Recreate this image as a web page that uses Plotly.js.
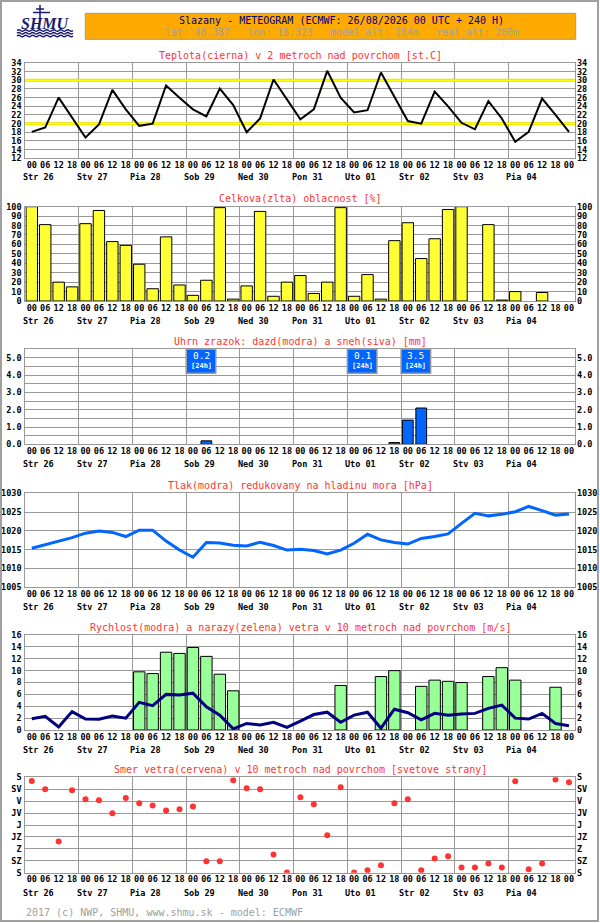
<!DOCTYPE html>
<html><head><meta charset="utf-8">
<script src="https://cdn.plot.ly/plotly-3.0.1.min.js"></script>
<style>html,body{margin:0;padding:0;background:#fff}#chart{width:600px;height:923px}</style>
</head><body><div id="chart"></div>
<script>
// ---------------- data ----------------
const hours = [0,6,12,18,24,30,36,42,48,54,60,66,72,78,84,90,96,102,108,114,120,126,132,138,144,150,156,162,168,174,180,186,192,198,204,210,216,222,228,234,240];
const tickLabels = ['00','06','12','18','00','06','12','18','00','06','12','18','00','06','12','18','00','06','12','18','00','06','12','18','00','06','12','18','00','06','12','18','00','06','12','18','00','06','12','18','00'];
const dayLabels = ['Str 26','Stv 27','Pia 28','Sob 29','Ned 30','Pon 31','Uto 01','Str 02','Stv 03','Pia 04'];
const dayGridHours = [21,45,69,93,117,141,165,189,213];
const temperature = [18.1,19.1,26.0,21.5,16.8,19.8,27.8,23.3,19.5,20.0,28.8,26.0,23.3,21.7,28.1,24.3,18.0,21.2,30.2,25.6,21.0,23.3,32.2,26.0,22.6,23.1,31.8,26.2,20.6,20.0,27.4,24.0,20.2,18.7,25.2,21.2,15.8,18.1,25.8,22.0,18.1];
const tempThresholds = [20, 30];
const cloudCover = [100,81,20,15,82,96,63,59,39,13,68,17,6,22,99,2,16,95,5,20,27,8,20,99,5,28,2,64,83,45,66,97,100,0,81,1,10,0,9,0,0];
const rain = [0,0,0,0,0,0,0,0,0,0,0,0,0,0.2,0,0,0,0,0,0,0,0,0,0,0,0,0,0.1,1.4,2.1,0,0,0,0,0,0,0,0,0,0,0];
const snow = [0,0,0,0,0,0,0,0,0,0,0,0,0,0,0,0,0,0,0,0,0,0,0,0,0,0,0,0,0,0,0,0,0,0,0,0,0,0,0,0,0];
const pressure = [1015.4,1016.3,1017.4,1018.2,1019.4,1020.0,1019.6,1018.5,1020.2,1020.2,1017.3,1014.9,1013.0,1016.9,1016.8,1016.2,1016.0,1017.0,1016.1,1014.9,1015.1,1014.8,1013.9,1014.9,1016.7,1019.1,1017.6,1016.9,1016.5,1018.0,1018.5,1019.2,1022.0,1024.7,1024.0,1024.4,1025.1,1026.5,1025.4,1024.2,1024.5];
const windSpeed = [1.9,2.3,0.5,3.1,1.85,1.8,2.35,2.0,4.66,4.1,6.0,5.9,6.2,3.9,2.5,0.2,1.1,0.85,1.3,0.45,1.5,2.6,3.0,1.3,2.5,3.0,0.3,3.5,2.9,1.7,2.8,2.5,2.7,2.8,3.65,4.2,2.0,1.85,2.8,1.1,0.7];
const windGust = [null,null,null,null,null,null,null,null,9.8,9.5,13.1,12.9,13.9,12.4,9.4,6.6,null,null,null,null,null,null,null,7.5,null,null,9.0,10.0,null,7.35,8.4,8.2,8.0,null,9.0,10.5,8.4,null,null,7.2,null];
const windDir = [14,45,242,49,83,87,136,78,98,106,125,121,110,317,317,11,41,45,291,359,75,102,219,38,359,351,332,98,83,351,306,298,340,340,325,340,15,347,325,8,19];
const dirLabels = ['S','SV','V','JV','J','JZ','Z','SZ','S'];
const dirValues = [0,45,90,135,180,225,270,315,360];
const panelTitles = [
  'Teplota(cierna) v 2 metroch nad povrchom [st.C]',
  'Celkova(zlta) oblacnost [%]',
  'Uhrn zrazok: dazd(modra) a sneh(siva) [mm]',
  'Tlak(modra) redukovany na hladinu mora [hPa]',
  'Rychlost(modra) a narazy(zelena) vetra v 10 metroch nad povrchom [m/s]',
  'Smer vetra(cervena) v 10 metroch nad povrchom [svetove strany]'
];
const headerTitle = 'Slazany - METEOGRAM (ECMWF: 26/08/2026 00 UTC + 240 H)';
const headerInfo = ['lat: 48.387','lon: 18.323','model_alt: 284m','real_alt: 200m'];
const footerText = '2017 (c) NWP, SHMU, www.shmu.sk - model: ECMWF';

// ---------------- layout helpers ----------------
const W = 600, H = 923;
const px = x => x / W, py = y => 1 - y / H;
const MONO = '"DejaVu Sans Mono", monospace';
const GRID = '#999999';
const X_RANGE = [-2.9, 242.7];
const xDom = [px(25.3), px(575)];
const panels = [[63,158.3],[206.7,301],[349.3,444.3],[493.3,587.3],[635,730],[777.3,872.7]];
const tickFont = {family: MONO, size: 8.5, color: '#000', weight: 'bold'};

function seq(a, b, s){ const r=[]; for(let v=a; v<=b+1e-9; v+=s) r.push(+v.toFixed(3)); return r; }
const precipTicks = seq(0, 5.5, 0.5);
const ySpecs = [
  {range:[12,34], tickvals: seq(12,34,2)},
  {range:[0,100], tickvals: seq(0,100,10)},
  {range:[0,5.5], tickvals: precipTicks, ticktext: precipTicks.map(v => Number.isInteger(v) ? v.toFixed(1) : '')},
  {range:[1005,1030], tickvals: seq(1005,1030,5)},
  {range:[0,16], tickvals: seq(0,16,2)},
  {range:[360,0], tickvals: dirValues, ticktext: dirLabels}
];

const layout = {
  width: W, height: H, margin:{l:0,r:0,t:0,b:0},
  paper_bgcolor:'#fff', plot_bgcolor:'#fff', showlegend:false,
  barmode:'overlay', bargap:0,
  shapes:[], annotations:[]
};
const sfx = i => i === 0 ? '' : String(i+1);

panels.forEach((p, i) => {
  const s = sfx(i);
  // main x axis: day gridlines + frame
  layout['xaxis'+s] = {
    domain: xDom, anchor: 'y'+s, range: X_RANGE,
    tickmode:'array', tickvals: dayGridHours, ticks:'', showticklabels:false,
    showgrid:true, gridcolor:GRID, gridwidth:1,
    zeroline:false, showline:true, mirror:true, linecolor:GRID, linewidth:1, fixedrange:true
  };
  // overlay x axis: hour labels
  layout['xaxis'+(i+7)] = {
    domain: xDom, anchor: 'y'+s, overlaying: 'x'+s, side:'bottom', range: X_RANGE,
    tickmode:'array', tickvals: hours, ticktext: tickLabels, ticks:'',
    showgrid:false, zeroline:false, showline:false,
    tickfont: tickFont, ticklabelstandoff: 0, fixedrange:true
  };
  const sp = ySpecs[i];
  const base = {
    domain:[py(p[1]), py(p[0])], range: sp.range,
    tickmode:'array', tickvals: sp.tickvals, ticktext: sp.ticktext,
    ticks:'', zeroline:false, tickfont: tickFont, fixedrange:true
  };
  layout['yaxis'+s] = Object.assign({}, base, {
    anchor:'x'+s, showgrid:true, gridcolor:GRID, gridwidth:1,
    showline:true, mirror:true, linecolor:GRID, linewidth:1, ticklabelstandoff: 1
  });
  layout['yaxis'+(i+7)] = Object.assign({}, base, {
    anchor:'x'+s, overlaying:'y'+s, side:'right', showgrid:false, showline:false, ticklabelstandoff: 1
  });
  // panel title
  layout.annotations.push({text: panelTitles[i], xref:'paper', yref:'paper', x: px(300), y: py(p[0]-8),
    xanchor:'center', yanchor:'middle', showarrow:false, font:{family:MONO, size:10, color:'#ff3333'}});
  // day labels
  dayLabels.forEach((d, k) => {
    layout.annotations.push({text: d, xref:'x'+s, yref:'y'+s+' domain', x: 24*k+3, y: 0, yshift: i === 0 ? -18.5 : -20,
      xanchor:'center', yanchor:'middle', showarrow:false, font:{family:MONO, size:8.5, color:'#000', weight:'bold'}});
  });
});

// 24h precipitation boxes (windows start at the day gridlines)
[-3].concat(dayGridHours).forEach(st => {
  let sum = 0;
  hours.forEach((h, k) => { if (h > st && h <= st + 24) sum += rain[k] + snow[k]; });
  if (sum > 0.001) {
    layout.shapes.push({type:'rect', xref:'x3', yref:'y3 domain', x0: st, x1: st + 13.2, y0: 1 - 24/95, y1: 1,
      fillcolor:'#0066ff', line:{color:GRID, width:1.5}, layer:'above'});
    layout.annotations.push({text: sum.toFixed(1), xref:'x3', yref:'y3 domain', x: st + 6.6, y: 1 - 6.3/95,
      xanchor:'center', yanchor:'middle', showarrow:false, font:{family:MONO, size:9.5, color:'#fff'}});
    layout.annotations.push({text: '[24h]', xref:'x3', yref:'y3 domain', x: st + 6.6, y: 1 - 16.2/95,
      xanchor:'center', yanchor:'middle', showarrow:false, font:{family:MONO, size:7, color:'#fff', weight:'bold'}});
  }
});

// header
layout.shapes.push({type:'rect', xref:'paper', yref:'paper', x0:px(1), x1:px(598), y0:py(921), y1:py(1),
  line:{color:'#a0a0a0', width:2}, fillcolor:'rgba(0,0,0,0)', layer:'above'});
layout.shapes.push({type:'rect', xref:'paper', yref:'paper', x0:px(85.3), x1:px(575.7), y0:py(39.3), y1:py(13.3),
  fillcolor:'#ffaa00', line:{color:'#999', width:1}, layer:'below'});
layout.annotations.push({text: headerTitle, xref:'paper', yref:'paper', x:px(342), y:py(20.3), xanchor:'center', yanchor:'middle',
  showarrow:false, font:{family:MONO, size:10, color:'#000080'}});
layout.annotations.push({text: headerInfo.join('\u00a0\u00a0\u00a0'), xref:'paper', yref:'paper', x:px(342), y:py(33), xanchor:'center', yanchor:'middle',
  showarrow:false, font:{family:MONO, size:9.8, color:'#a0a0a0'}});
layout.annotations.push({text: footerText, xref:'paper', yref:'paper', x:px(24), y:py(912.3), xanchor:'left', yanchor:'middle',
  showarrow:false, font:{family:MONO, size:10, color:'#a0a0a0'}});

// logo (SHMU)
const NAVY = '#1a1a6e';
layout.annotations.push({text:'<b><i>SHMU</i></b>', xref:'paper', yref:'paper', x:px(45), y:py(23.5), xanchor:'center', yanchor:'middle',
  showarrow:false, font:{family:'"Liberation Serif", serif', size:16, color:NAVY}});
[[40,5,40,18],[33,12.5,50,12.5],[36,9,44,9]].forEach(l => layout.shapes.push({type:'line', xref:'paper', yref:'paper',
  x0:px(l[0]), y0:py(l[1]), x1:px(l[2]), y1:py(l[3]), line:{color:NAVY, width:1.5}}));
[30.5, 33.3, 36].forEach(yy => {
  let d = 'M ' + px(17) + ',' + py(yy);
  for (let x = 17; x < 73; x += 7) {
    d += ' Q ' + px(x + 1.75) + ',' + py(yy - 1.6) + ' ' + px(x + 3.5) + ',' + py(yy);
    d += ' Q ' + px(x + 5.25) + ',' + py(yy + 1.6) + ' ' + px(x + 7) + ',' + py(yy);
  }
  layout.shapes.push({type:'path', xref:'paper', yref:'paper', path:d, line:{color:NAVY, width:1.4}});
});

// ---------------- traces ----------------
const nz = arr => arr.map(v => (v && v > 0) ? v : null);
const traces = [];
tempThresholds.forEach(t => {
  traces.push({type:'scatter', mode:'lines', x:X_RANGE, y:[t, t], xaxis:'x', yaxis:'y', line:{color:'#d8d800', width:3}});
  traces.push({type:'scatter', mode:'lines', x:X_RANGE, y:[t, t], xaxis:'x', yaxis:'y', line:{color:'#ffff00', width:1.8}});
});
traces.push(
  {type:'scatter', mode:'lines', x:hours, y:temperature, xaxis:'x', yaxis:'y', line:{color:'#000', width:2}},
  {type:'bar', x:hours, y:nz(cloudCover), xaxis:'x2', yaxis:'y2', width:5.1, marker:{color:'#ffff33', line:{color:'#000', width:1}}},
  {type:'bar', x:hours, y:nz(rain), xaxis:'x3', yaxis:'y3', width:4.8, marker:{color:'#0066ff', line:{color:'#000', width:1}}},
  {type:'bar', x:hours, y:nz(snow), xaxis:'x3', yaxis:'y3', width:4.8, marker:{color:'#aaaaaa', line:{color:'#000', width:1}}},
  {type:'scatter', mode:'lines', x:hours, y:pressure, xaxis:'x4', yaxis:'y4', line:{color:'#0066ff', width:3}},
  {type:'bar', x:hours, y:windGust, xaxis:'x5', yaxis:'y5', width:5.1, marker:{color:'#99ff99', line:{color:'#000', width:1}}},
  {type:'scatter', mode:'lines', x:hours, y:windSpeed, xaxis:'x5', yaxis:'y5', line:{color:'#000080', width:3}},
  {type:'scatter', mode:'markers', x:hours, y:windDir, xaxis:'x6', yaxis:'y6', marker:{color:'#ff3333', size:6}}
);
for (let i = 0; i < 6; i++) {
  traces.push({type:'scatter', mode:'markers', x:[null], y:[null], xaxis:'x'+sfx(i), yaxis:'y'+(i+7)});
  traces.push({type:'scatter', mode:'markers', x:[null], y:[null], xaxis:'x'+(i+7), yaxis:'y'+sfx(i)});
}
traces.forEach(t => { t.hoverinfo = 'skip'; t.showlegend = false; });

Plotly.newPlot('chart', traces, layout, {staticPlot:true, displayModeBar:false});
</script>
</body></html>
